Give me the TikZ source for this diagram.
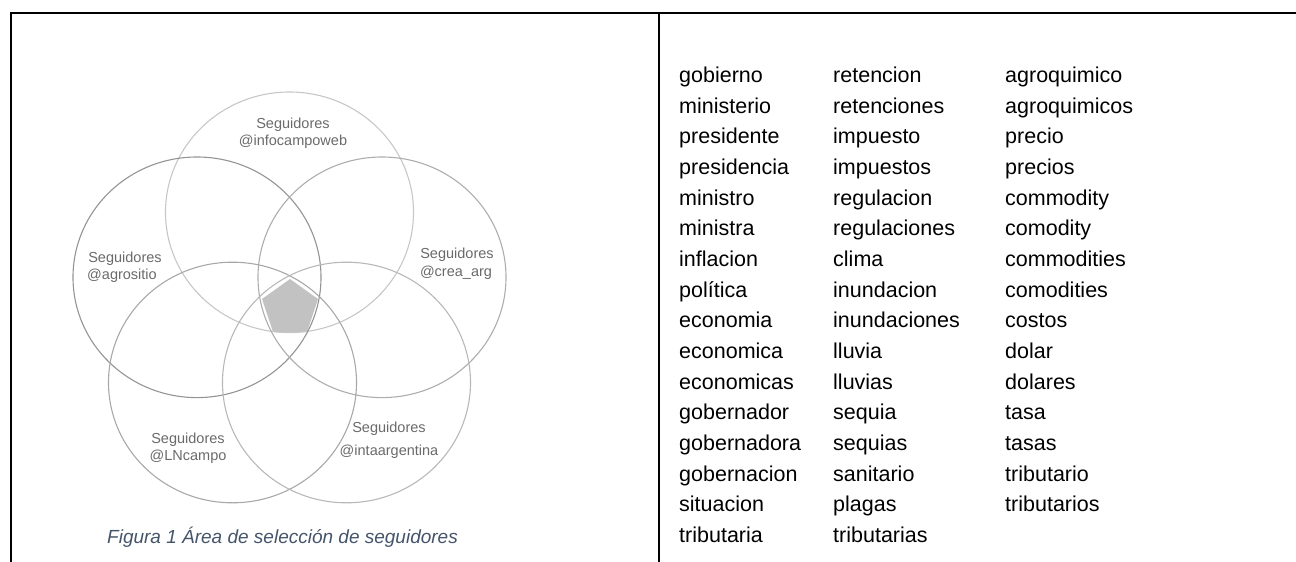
\documentclass[tikz,border=0pt]{standalone}
\usepackage{fontspec}
\setmainfont{Liberation Sans}
\definecolor{capblue}{HTML}{44546A}
\definecolor{lblgray}{HTML}{6A6A6A}
\begin{document}
\begin{tikzpicture}[x=1pt,y=-1pt,
  frame/.style={line width=2pt,black},
  circ/.style={line width=1.1pt},
  lbl/.style={text=lblgray,font=\fontsize{14.5}{17}\selectfont,inner sep=0pt,anchor=base,align=center},
  word/.style={font=\fontsize{21.5}{25}\selectfont,inner sep=0pt,anchor=base west},
  capt/.style={text=capblue,font=\fontsize{19}{23}\selectfont\itshape,inner sep=0pt,anchor=base west}]
\useasboundingbox (0,0) rectangle (1296,562);
% frame
\coordinate (tl) at (11,13);
\coordinate (tr) at (1296,13);
\coordinate (bl) at (11,562);
\coordinate (dt) at (658.5,13);
\coordinate (db) at (658.5,562);
\draw[frame] (tr) -- (tl) -- (bl);
\draw[frame] (dt) -- (db);
% pentagon
\fill[fill=black!24] (290,279) -- (318,299) -- (307,332) -- (273,332) -- (262,299) -- cycle;
% circles
\def\rr{124}
\def\ry{120.3}
\draw[circ,draw=black!22] (289.5,212.3) ellipse [x radius=\rr, y radius=\ry];
\draw[circ,draw=black!42] (197,277.3) ellipse [x radius=\rr, y radius=\ry];
\draw[circ,draw=black!32] (382,277.3) ellipse [x radius=\rr, y radius=\ry];
\draw[circ,draw=black!34] (232.5,382.5) ellipse [x radius=\rr, y radius=\ry];
\draw[circ,draw=black!28] (346.5,382.5) ellipse [x radius=\rr, y radius=\ry];
% labels
\node[lbl] (l1a) at (293,128) {Seguidores};
\node[lbl] (l1b) at (293,145) {@infocampoweb};
\node[lbl] (l2a) at (125,262) {Seguidores};
\node[lbl] (l2b) at (122,279) {@agrositio};
\node[lbl] (l3a) at (457,258) {Seguidores};
\node[lbl] (l3b) at (456,276) {@crea\_arg};
\node[lbl] (l4a) at (188,443) {Seguidores};
\node[lbl] (l4b) at (188,460) {@LNcampo};
\node[lbl] (l5a) at (389,432) {Seguidores};
\node[lbl] (l5b) at (389,455) {@intaargentina};
\node[capt] (cap) at (107,543) {Figura 1 Área de selección de seguidores};
% word columns
\foreach \w [count=\i from 0] in {gobierno,ministerio,presidente,presidencia,ministro,ministra,inflacion,política,economia,economica,economicas,gobernador,gobernadora,gobernacion,situacion,tributaria}
  \node[word] (a\i) at (679,{82.5+30.67*\i}) {\w};
\foreach \w [count=\i from 0] in {retencion,retenciones,impuesto,impuestos,regulacion,regulaciones,clima,inundacion,inundaciones,lluvia,lluvias,sequia,sequias,sanitario,plagas,tributarias}
  \node[word] (b\i) at (833,{82.5+30.67*\i}) {\w};
\foreach \w [count=\i from 0] in {agroquimico,agroquimicos,precio,precios,commodity,comodity,commodities,comodities,costos,dolar,dolares,tasa,tasas,tributario,tributarios}
  \node[word] (c\i) at (1005,{82.5+30.67*\i}) {\w};
\end{tikzpicture}
\end{document}
